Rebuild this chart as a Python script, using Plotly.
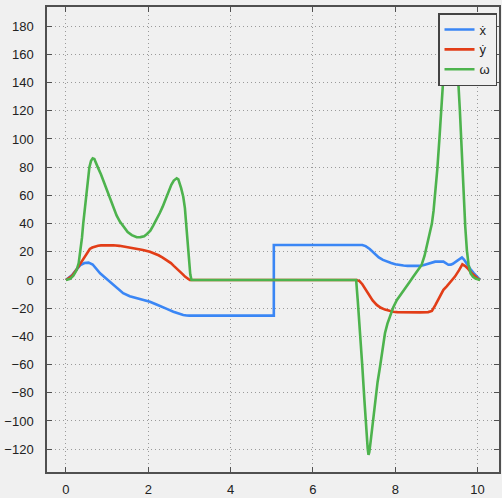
import plotly.graph_objects as go

# ---- data ----
t_xdot = [0, 0.15, 0.26, 0.35, 0.45, 0.55, 0.65, 0.75, 0.83, 0.92, 1.0, 1.1, 1.2, 1.3, 1.39, 1.55, 1.7, 1.87,
          2.04, 2.2, 2.3, 2.45, 2.61, 2.73, 2.85, 2.93, 3.0,
          5.05, 5.05, 7.2, 7.28, 7.38, 7.5, 7.6, 7.7, 7.8, 7.9, 8.0, 8.1, 8.2, 8.3, 8.6, 8.7, 8.8, 8.88,
          8.97, 9.17, 9.23, 9.29, 9.35, 9.4, 9.5, 9.56, 9.62, 9.67, 9.74, 9.82, 9.9, 10.0, 10.06]
v_xdot = [0, 3.5, 7.5, 10.5, 12, 12.3, 11, 7.5, 4.7, 2.5, 0.5, -2, -4.5, -7, -9.4, -11.5, -12.8, -14,
          -15.4, -17.4, -18.5, -20.5, -22.5, -23.9, -24.8, -25.2, -25.3,
          -25.3, 24.8, 24.8, 24, 22, 18.5, 16, 14.2, 13, 12, 11.2, 10.6, 10.2, 10, 10, 10.6, 11.5, 12.5,
          13, 13, 12, 10.8, 10.9, 11.5, 13.5, 14.8, 16, 14.5, 11, 8, 5, 1.8, 0]

t_ydot = [0, 0.15, 0.26, 0.4, 0.5, 0.58, 0.64, 0.7, 0.78, 0.85, 1.0, 1.15, 1.3, 1.5, 1.7, 1.87, 2.04, 2.15,
          2.25, 2.35, 2.45, 2.55, 2.62, 2.7, 2.77, 2.84, 2.9, 2.96, 3.01,
          7.06, 7.13, 7.2, 7.28, 7.35, 7.45, 7.55, 7.65, 7.75, 7.85, 7.95, 8.05, 8.2, 8.6, 8.8, 8.89, 8.97,
          9.05, 9.17, 9.25, 9.35, 9.45, 9.55, 9.63, 9.7, 9.75, 9.85, 9.94, 10.0, 10.06]
v_ydot = [0, 3, 7.5, 14, 19, 22, 23, 23.8, 24.3, 24.5, 24.8, 24.6, 24.2, 23.3, 22.3, 21.3, 20, 18.8,
          17.5, 15.9, 14.2, 12, 10, 8, 5.9, 4, 2.2, 0.8, 0,
          0, -0.8, -3, -6.5, -10, -14.5, -17.7, -19.7, -21, -21.9, -22.5, -22.8, -23, -23, -22.8, -22, -18,
          -14, -7, -4.5, -1, 2.4, 7, 11.1, 9.8, 8.5, 5, 2.4, 1, 0]

t_omega = [0, 0.1, 0.18, 0.26, 0.31, 0.35, 0.39, 0.42, 0.46, 0.5, 0.54, 0.57, 0.61, 0.65, 0.69, 0.72, 0.78,
           0.85, 0.92, 0.99, 1.07, 1.15, 1.23, 1.31, 1.4, 1.5, 1.6, 1.72, 1.81, 1.9, 1.97, 2.05, 2.12,
           2.2, 2.28, 2.35, 2.43, 2.5, 2.56, 2.62, 2.66, 2.69, 2.73, 2.76, 2.8, 2.85, 2.89, 2.92, 2.95,
           2.98, 3.02, 3.05,
           7.05, 7.09, 7.12, 7.16, 7.2, 7.25, 7.3, 7.33, 7.35, 7.37, 7.4, 7.45, 7.51, 7.57, 7.63, 7.69,
           7.75, 7.81, 7.87, 7.95, 8.04, 8.14, 8.24, 8.34, 8.44, 8.54, 8.64, 8.71, 8.77, 8.83,
           8.89, 8.93, 8.97, 9.02, 9.07, 9.11, 9.15, 9.2, 9.25, 9.3, 9.35, 9.4, 9.45, 9.49, 9.53, 9.57,
           9.6, 9.63, 9.66, 9.7, 9.74, 9.78, 9.83, 9.89, 9.95, 10.02, 10.06]
v_omega = [0, 0.8, 3, 7, 12, 20, 30, 40, 51, 62, 72, 80, 84.5, 86.3, 85.8, 84, 79.5,
           75, 69.5, 63.8, 57.5, 51, 45.8, 41.4, 37.5, 34, 31.8, 30.3, 30.4, 31, 32.6, 35, 38.5,
           42.5, 47.5, 52, 58, 63, 67.5, 70.5, 71.7, 72.1, 71.3, 69, 65, 59, 51, 40, 28,
           15, 4, 0,
           0, -15, -30, -46, -61.5, -85, -110, -119.5, -124, -122, -115, -101, -85, -72.5, -61.5, -48.5,
           -37.8, -31, -26, -19.5, -14.2, -9.8, -6, -1.8, 2.4, 6.5, 10.6, 17, 24, 31.5,
           40, 49, 60, 78, 99, 120, 141, 158, 168, 175, 178, 175, 168, 156, 141, 120,
           99, 79, 60, 38, 21, 11, 4.7, 2.2, 1, 0, 0]

x_ticks = [0, 2, 4, 6, 8, 10]
y_ticks = [-120, -100, -80, -60, -40, -20, 0, 20, 40, 60, 80, 100, 120, 140, 160, 180]

names = ["ẋ", "ẏ", "ω"]
colors = ["#3a86f5", "#e23d17", "#4db34d"]

fig = go.Figure()
for t, v, n, c in zip([t_xdot, t_ydot, t_omega], [v_xdot, v_ydot, v_omega], names, colors):
    fig.add_trace(go.Scatter(x=t, y=v, name=n, mode="lines",
                             line=dict(color=c, width=2.6, shape="linear")))

axis_common = dict(
    showgrid=True, gridcolor="#9a9a9a", griddash="1px,3px", gridwidth=1,
    showline=True, linecolor="#505050", linewidth=1.5, mirror="ticks",
    ticks="inside", ticklen=5, tickcolor="#505050", tickwidth=1,
    zeroline=False, automargin=False,
    tickfont=dict(family="Liberation Sans, Arial, sans-serif", size=13, color="#222"),
)

fig.update_xaxes(range=[-0.46, 10.52], tickvals=x_ticks, ticklabelstandoff=5, **axis_common)
fig.update_yaxes(range=[-136.2, 193.6], tickvals=y_ticks, ticklabelstandoff=9, **axis_common)

fig.update_layout(
    width=502, height=498,
    margin=dict(l=47, r=3, t=7, b=26),
    paper_bgcolor="#f0f0f0", plot_bgcolor="#f0f0f0",
    showlegend=True,
    legend=dict(x=0.9956, y=0.987, xanchor="right", yanchor="top",
                bgcolor="#f0f0f0", bordercolor="#444", borderwidth=1.5,
                font=dict(family="Liberation Sans, Arial, sans-serif", size=13, color="#222"),
                tracegroupgap=0, entrywidth=68, entrywidthmode="pixels"),
)

fig.write_html("out.html", config={"displayModeBar": False},
               post_script="document.body.style.margin='0';")
